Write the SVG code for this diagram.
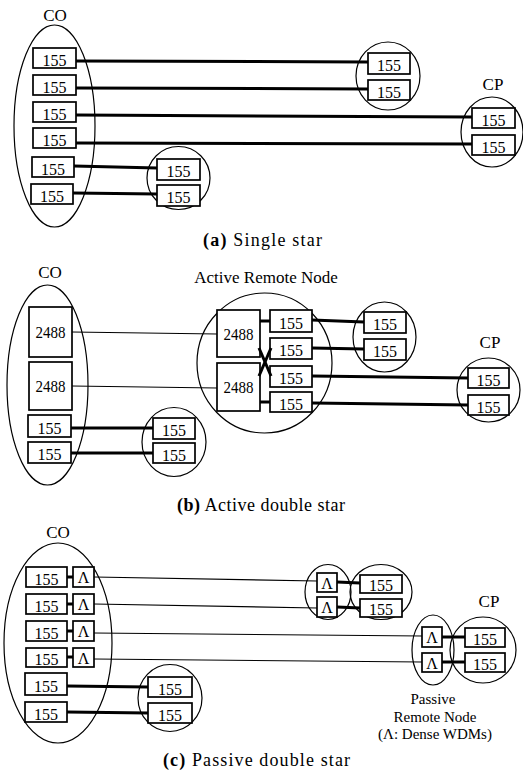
<svg xmlns="http://www.w3.org/2000/svg" width="523" height="772" viewBox="0 0 523 772">
<style>
text{font-family:"Liberation Serif","Times New Roman",serif;fill:#000}
.enc{fill:none;stroke:#000;stroke-width:1.2}
.box{fill:#fff;stroke:#000;stroke-width:1.7}
.n{font-size:16px;text-anchor:middle}
.lbl{font-size:17px;text-anchor:middle}
.prn{font-size:15px;text-anchor:middle}
.cap{font-size:18px}
.thick{stroke:#000;stroke-width:3;fill:none}
.thin{stroke:#000;stroke-width:1.1;fill:none}
</style>
<rect width="523" height="772" fill="#fff"/>

<!-- ===== (a) Single star ===== -->
<g id="a-co">
<text class="lbl" x="55" y="21">CO</text>
<ellipse class="enc" cx="54.5" cy="126" rx="40.5" ry="101"/>
<g id="a-co-1"><rect class="box" x="33" y="48" width="43" height="20"/><text class="n" x="54.5" y="65.5">155</text></g>
<g id="a-co-2"><rect class="box" x="33" y="75" width="43" height="20"/><text class="n" x="54.5" y="92.5">155</text></g>
<g id="a-co-3"><rect class="box" x="33" y="102" width="43" height="20"/><text class="n" x="54.5" y="119.5">155</text></g>
<g id="a-co-4"><rect class="box" x="33" y="128" width="43" height="20"/><text class="n" x="54.5" y="145.5">155</text></g>
<g id="a-co-5"><rect class="box" x="32" y="157" width="42" height="20"/><text class="n" x="53" y="174.5">155</text></g>
<g id="a-co-6"><rect class="box" x="31" y="184" width="42" height="20"/><text class="n" x="52" y="201.5">155</text></g>
</g>
<g id="a-cp1">
<ellipse class="enc" cx="388" cy="76" rx="32" ry="34"/>
<g id="a-cp1-1"><rect class="box" x="368" y="53" width="42" height="21"/><text class="n" x="389" y="71">155</text></g>
<g id="a-cp1-2"><rect class="box" x="368" y="80" width="42" height="20"/><text class="n" x="389" y="97.5">155</text></g>
</g>
<g id="a-cp2">
<text class="lbl" x="493" y="90">CP</text>
<ellipse class="enc" cx="492" cy="132" rx="31" ry="35"/>
<g id="a-cp2-1"><rect class="box" x="472" y="108" width="43" height="20"/><text class="n" x="493.5" y="125.5">155</text></g>
<g id="a-cp2-2"><rect class="box" x="472" y="135" width="43" height="20"/><text class="n" x="493.5" y="152.5">155</text></g>
</g>
<g id="a-cp3">
<ellipse class="enc" cx="178.5" cy="178" rx="31.5" ry="31.5"/>
<g id="a-cp3-1"><rect class="box" x="157" y="159" width="43" height="21"/><text class="n" x="178.5" y="177">155</text></g>
<g id="a-cp3-2"><rect class="box" x="157" y="185" width="43" height="21"/><text class="n" x="178.5" y="203">155</text></g>
</g>
<text id="a-cap" class="cap" x="203" y="246" textLength="119"><tspan font-weight="bold">(a)</tspan> Single star</text>

<!-- ===== (b) Active double star ===== -->
<g id="b-co">
<text class="lbl" x="50" y="278">CO</text>
<ellipse class="enc" cx="47.5" cy="385" rx="40.5" ry="100"/>
<g id="b-co-1"><rect class="box" x="29" y="307" width="43" height="50"/><text class="n" x="50.5" y="338" textLength="30" lengthAdjust="spacingAndGlyphs">2488</text></g>
<g id="b-co-2"><rect class="box" x="29" y="362" width="43" height="48"/><text class="n" x="50.5" y="392" textLength="30" lengthAdjust="spacingAndGlyphs">2488</text></g>
<g id="b-co-3"><rect class="box" x="28" y="415" width="43" height="22"/><text class="n" x="49.5" y="433.5">155</text></g>
<g id="b-co-4"><rect class="box" x="28" y="442" width="43" height="21"/><text class="n" x="49.5" y="459.5">155</text></g>
</g>
<g id="b-cp0">
<ellipse class="enc" cx="174" cy="442" rx="32" ry="34.5"/>
<g id="b-cp0-1"><rect class="box" x="153" y="418" width="42" height="21"/><text class="n" x="174" y="436">155</text></g>
<g id="b-cp0-2"><rect class="box" x="153" y="443" width="42" height="20"/><text class="n" x="174" y="460.5">155</text></g>
</g>
<g id="b-rn">
<text class="lbl" x="266" y="283">Active Remote Node</text>
<ellipse class="enc" cx="264.5" cy="363" rx="67.5" ry="70"/>
<g id="b-rn-2488a"><rect class="box" x="217" y="310" width="43" height="47"/><text class="n" x="238.5" y="340" textLength="30" lengthAdjust="spacingAndGlyphs">2488</text></g>
<g id="b-rn-2488b"><rect class="box" x="217" y="363" width="43" height="48"/><text class="n" x="238.5" y="393" textLength="30" lengthAdjust="spacingAndGlyphs">2488</text></g>
<g id="b-rn-1"><rect class="box" x="270" y="310" width="42" height="22"/><text class="n" x="291" y="328.5">155</text></g>
<g id="b-rn-2"><rect class="box" x="270" y="338" width="42" height="21"/><text class="n" x="291" y="356">155</text></g>
<g id="b-rn-3"><rect class="box" x="270" y="366" width="42" height="21"/><text class="n" x="291" y="384">155</text></g>
<g id="b-rn-4"><rect class="box" x="270" y="392" width="42" height="20"/><text class="n" x="291" y="409.5">155</text></g>
</g>
<g id="b-cp1">
<ellipse class="enc" cx="384.5" cy="337" rx="31.5" ry="35"/>
<g id="b-cp1-1"><rect class="box" x="364" y="312" width="42" height="21"/><text class="n" x="385" y="330">155</text></g>
<g id="b-cp1-2"><rect class="box" x="364" y="339" width="42" height="21"/><text class="n" x="385" y="357">155</text></g>
</g>
<g id="b-cp2">
<text class="lbl" x="490" y="348">CP</text>
<ellipse class="enc" cx="488.5" cy="390" rx="31.5" ry="32"/>
<g id="b-cp2-1"><rect class="box" x="468" y="368" width="41" height="20"/><text class="n" x="488.5" y="385.5">155</text></g>
<g id="b-cp2-2"><rect class="box" x="468" y="395" width="41" height="20"/><text class="n" x="488.5" y="412.5">155</text></g>
</g>
<text id="b-cap" class="cap" x="177" y="511" textLength="168"><tspan font-weight="bold">(b)</tspan> Active double star</text>

<!-- ===== (c) Passive double star ===== -->
<g id="c-co">
<text class="lbl" x="58" y="538">CO</text>
<ellipse class="enc" cx="58" cy="643" rx="54" ry="100"/>
<g id="c-co-1"><rect class="box" x="26" y="567" width="41" height="20"/><text class="n" x="46.5" y="584.5">155</text></g>
<g id="c-co-1w"><rect class="box" x="73" y="567" width="21" height="20"/><text class="n" x="83.5" y="583">Λ</text></g>
<g id="c-co-2"><rect class="box" x="26" y="594" width="41" height="20"/><text class="n" x="46.5" y="611.5">155</text></g>
<g id="c-co-2w"><rect class="box" x="73" y="594" width="21" height="20"/><text class="n" x="83.5" y="610">Λ</text></g>
<g id="c-co-3"><rect class="box" x="26" y="621" width="41" height="20"/><text class="n" x="46.5" y="638.5">155</text></g>
<g id="c-co-3w"><rect class="box" x="73" y="621" width="21" height="20"/><text class="n" x="83.5" y="637">Λ</text></g>
<g id="c-co-4"><rect class="box" x="26" y="648" width="41" height="19"/><text class="n" x="46.5" y="665">155</text></g>
<g id="c-co-4w"><rect class="box" x="73" y="648" width="21" height="19"/><text class="n" x="83.5" y="663.5">Λ</text></g>
<g id="c-co-5"><rect class="box" x="25" y="673" width="42" height="22"/><text class="n" x="46" y="691.5">155</text></g>
<g id="c-co-6"><rect class="box" x="25" y="702" width="42" height="20"/><text class="n" x="46" y="719.5">155</text></g>
</g>
<g id="c-cp0">
<ellipse class="enc" cx="170" cy="698" rx="32" ry="33.5"/>
<g id="c-cp0-1"><rect class="box" x="148" y="677" width="44" height="20"/><text class="n" x="170" y="694.5">155</text></g>
<g id="c-cp0-2"><rect class="box" x="148" y="703" width="44" height="20"/><text class="n" x="170" y="720.5">155</text></g>
</g>
<g id="c-rn1">
<ellipse class="enc" cx="328" cy="592" rx="23" ry="27.5"/>
<g id="c-rn1-1"><rect class="box" x="317" y="573" width="20" height="19"/><text class="n" x="327" y="588.5">Λ</text></g>
<g id="c-rn1-2"><rect class="box" x="317" y="597" width="20" height="20"/><text class="n" x="327" y="613">Λ</text></g>
</g>
<g id="c-cp1">
<ellipse class="enc" cx="381" cy="592" rx="31" ry="27.5"/>
<g id="c-cp1-1"><rect class="box" x="360" y="575" width="42" height="18"/><text class="n" x="381" y="591">155</text></g>
<g id="c-cp1-2"><rect class="box" x="360" y="599" width="42" height="18"/><text class="n" x="381" y="615">155</text></g>
</g>
<g id="c-rn2">
<ellipse class="enc" cx="433" cy="650" rx="21" ry="35"/>
<g id="c-rn2-1"><rect class="box" x="422" y="627" width="20" height="20"/><text class="n" x="432" y="643">Λ</text></g>
<g id="c-rn2-2"><rect class="box" x="422" y="653" width="20" height="19"/><text class="n" x="432" y="668.5">Λ</text></g>
<text class="prn" x="433" y="704">Passive</text>
<text class="prn" x="435" y="721.5">Remote Node</text>
<text class="prn" x="435" y="739">(Λ: Dense WDMs)</text>
</g>
<g id="c-cp2">
<text class="lbl" x="489" y="607">CP</text>
<ellipse class="enc" cx="483" cy="650" rx="33" ry="33"/>
<g id="c-cp2-1"><rect class="box" x="465" y="628" width="40" height="19"/><text class="n" x="485" y="644.5">155</text></g>
<g id="c-cp2-2"><rect class="box" x="465" y="653" width="40" height="19"/><text class="n" x="485" y="669.5">155</text></g>
</g>
<text id="c-cap" class="cap" x="163" y="766" textLength="187"><tspan font-weight="bold">(c)</tspan> Passive double star</text>

<!-- ===== connectors ===== -->
<g id="connectors">
<!-- (a) -->
<line class="thick" x1="76" y1="61" x2="368" y2="62"/>
<line class="thick" x1="76" y1="88" x2="368" y2="89"/>
<line class="thick" x1="76" y1="115" x2="472" y2="117"/>
<line class="thick" x1="76" y1="143" x2="472" y2="144"/>
<line class="thick" x1="74" y1="166" x2="157" y2="168"/>
<line class="thick" x1="73" y1="193" x2="157" y2="194"/>
<!-- (b) -->
<line class="thin" x1="72" y1="332" x2="217" y2="334"/>
<line class="thin" x1="72" y1="386" x2="217" y2="388"/>
<line class="thick" x1="71" y1="428" x2="153" y2="428"/>
<line class="thick" x1="71" y1="453" x2="153" y2="453"/>
<line class="thick" x1="260" y1="321" x2="270" y2="321"/>
<line class="thick" x1="259" y1="348" x2="271" y2="376"/>
<line class="thick" x1="259" y1="376" x2="271" y2="348"/>
<line class="thick" x1="260" y1="402" x2="270" y2="402"/>
<line class="thick" x1="312" y1="320" x2="364" y2="322"/>
<line class="thick" x1="312" y1="348" x2="364" y2="349"/>
<line class="thick" x1="312" y1="376" x2="468" y2="378"/>
<line class="thick" x1="312" y1="403" x2="468" y2="405"/>
<!-- (c) -->
<line class="thick" x1="67" y1="577" x2="73" y2="577"/>
<line class="thick" x1="67" y1="604" x2="73" y2="604"/>
<line class="thick" x1="67" y1="631" x2="73" y2="631"/>
<line class="thick" x1="67" y1="657" x2="73" y2="657"/>
<line class="thin" x1="94" y1="577" x2="317" y2="581"/>
<line class="thin" x1="94" y1="604" x2="317" y2="608"/>
<line class="thin" x1="94" y1="633" x2="422" y2="636"/>
<line class="thin" x1="94" y1="659" x2="422" y2="662"/>
<line class="thick" x1="67" y1="686" x2="148" y2="687"/>
<line class="thick" x1="67" y1="712" x2="148" y2="713"/>
<line class="thick" x1="337" y1="582" x2="360" y2="583"/>
<line class="thick" x1="337" y1="607" x2="360" y2="608"/>
<line class="thick" x1="442" y1="637" x2="465" y2="637"/>
<line class="thick" x1="442" y1="662" x2="465" y2="662"/>
</g>
</svg>
